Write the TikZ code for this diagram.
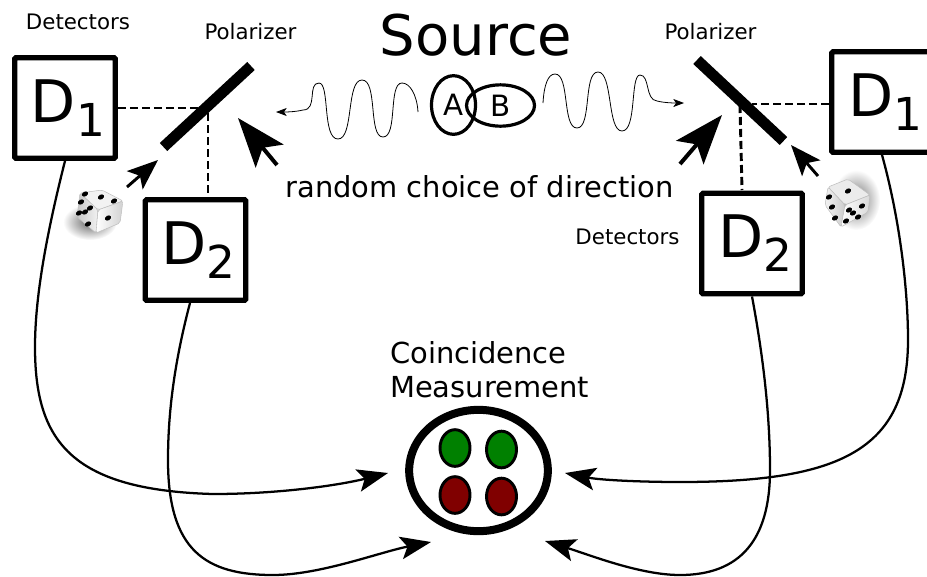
\documentclass[tikz,border=0pt]{standalone}
\usepackage{fontspec}
\setmainfont{DejaVu Sans}
\usetikzlibrary{positioning}
\usetikzlibrary{arrows.meta}
\usetikzlibrary{shapes.geometric}
\newcommand{\detname}[1]{{\fontsize{44}{44}\selectfont\kern4.5pt D\raisebox{-10.5pt}{\fontsize{34}{34}\selectfont #1}}}
\definecolor{spotgreen}{HTML}{008000}
\definecolor{spotred}{HTML}{800000}

\begin{document}
\begin{tikzpicture}[x=0.75pt, y=-0.75pt]
    \tikzstyle{det-block} = [draw=black, line width=3.9pt, fill=white, rectangle, rounded corners=1pt, minimum width=75.5pt, minimum height=75.5pt, inner sep=0pt];
    \tikzstyle{polarizer} = [line width=8.2pt, line cap=butt];
    \tikzstyle{link} = [line width=2.2pt, dash pattern=on 6pt off 3pt];
    \tikzstyle{big-pointer} = [line width=3pt, -{Stealth[length=37pt, width=27pt, inset=8pt]}];
    \tikzstyle{small-pointer} = [line width=2.2pt, -{Stealth[length=23pt, width=18pt, inset=5pt]}];
    \tikzstyle{cable} = [line width=1.7pt, -{Stealth[length=23pt, width=17pt, inset=5pt]}];
    \tikzstyle{signal} = [line width=0.6pt, -{Stealth[length=8pt, width=6pt, inset=2pt]}];
    \tikzstyle{particle} = [draw, line width=2.4pt, ellipse, inner sep=0pt, font=\fontsize{22}{22}\selectfont];
    \tikzstyle{spot} = [draw, line width=2.2pt, ellipse, inner sep=0pt, minimum width=22.5pt, minimum height=27.5pt];
    \tikzstyle{small-label} = [inner sep=0pt, font=\fontsize{16}{16}\selectfont];
    \tikzstyle{big-label} = [inner sep=0pt, font=\fontsize{21.7}{25.5}\selectfont];
    \tikzstyle{die-face} = [draw=black!25, line width=0.4pt, rounded corners=1.5pt];
    \tikzstyle{pip} = [fill=black];

    \useasboundingbox (0, 0) rectangle (927, 576);

    \node (source) at (476, 35) [inner sep=0pt, font=\fontsize{42}{42}\selectfont] {Source};
    \node (choice) at (479.5, 187) [big-label] {random choice of direction};
    \node (coincidence) at (489.5, 369.5) [big-label, align=left] {Coincidence\\Measurement};
    \node (det-label-l) at (78, 22) [small-label] {Detectors};
    \node (det-label-r) at (627.5, 237) [small-label] {Detectors};
    \node (pol-label-l) at (250.5, 32) [small-label] {Polarizer};
    \node (pol-label-r) at (710.5, 32) [small-label] {Polarizer};

    \node[det-block] (det-l-1) at (65, 108)    {\detname{1}};
    \node[det-block] (det-l-2) at (195.5, 250) {\detname{2}};
    \node[det-block] (det-r-1) at (882, 102)   {\detname{1}};
    \node[det-block] (det-r-2) at (752, 243.5) {\detname{2}};

    \coordinate (pol-l-a) at (163.5, 147);
    \coordinate (pol-l-b) at (251, 66);
    \coordinate (pol-r-a) at (697, 60);
    \coordinate (pol-r-b) at (783.5, 141);
    \draw [polarizer] (pol-l-a) -- (pol-l-b);
    \draw [polarizer] (pol-r-a) -- (pol-r-b);

    \coordinate (hit-l-1) at (200, 108);
    \coordinate (hit-l-2) at (208, 113);
    \coordinate (hit-r-1) at (752, 104);
    \coordinate (hit-r-2) at (740, 105);
    \draw [link] (det-l-1.east |- hit-l-1) -- (hit-l-1);
    \draw [link] (hit-l-2) -- (hit-l-2 |- det-l-2.north);
    \draw [link] (det-r-1.west |- hit-r-1) -- (hit-r-1);
    \draw [link] (hit-r-2) -- (742, 190);

    \coordinate (aim-l) at (238, 118);
    \coordinate (aim-r) at (722, 115);
    \coordinate (tail-l) at (277, 165);
    \coordinate (tail-r) at (680, 164);
    \draw [big-pointer] (tail-l) -- (aim-l);
    \draw [big-pointer] (tail-r) -- (aim-r);

    \coordinate (die-aim-l) at (158, 160);
    \coordinate (die-aim-r) at (791, 145);
    \coordinate (die-tail-l) at (127, 187);
    \coordinate (die-tail-r) at (818, 176);
    \draw [small-pointer] (die-tail-l) -- (die-aim-l);
    \draw [small-pointer] (die-tail-r) -- (die-aim-r);

    \node[particle, minimum width=33pt, minimum height=44pt] (part-a) at (453.5, 105) {A};
    \node[particle, minimum width=51pt, minimum height=31pt] (part-b) at (500.5, 105.5) {B};

    \coordinate (wave-l-start) at (418, 112);
    \coordinate (wave-l-end) at (276, 112);
    \coordinate (wave-r-start) at (543, 103);
    \coordinate (wave-r-end) at (684, 103);
    \draw [signal] (wave-l-start) .. controls (417, 95) and (410, 83) .. (402, 83)
        .. controls (388, 83) and (398, 137) .. (383, 137)
        .. controls (368, 137) and (378, 80) .. (362, 80)
        .. controls (346, 80) and (354, 139) .. (338, 139)
        .. controls (322, 139) and (330, 83) .. (319, 83)
        .. controls (307, 83) and (318, 110) .. (303, 110)
        .. controls (295, 112) and (285, 112) .. (wave-l-end);
    \draw [signal] (wave-r-start) .. controls (544, 85) and (548, 74) .. (555, 74)
        .. controls (570, 74) and (562, 128) .. (577, 128)
        .. controls (592, 128) and (583, 72) .. (598, 72)
        .. controls (613, 72) and (607, 131) .. (622, 131)
        .. controls (637, 131) and (630, 75) .. (640, 75)
        .. controls (650, 75) and (645, 100) .. (657, 101)
        .. controls (665, 103) and (675, 103) .. (wave-r-end);

    \node[draw, line width=6pt, ellipse, minimum width=104pt, minimum height=91pt, inner sep=0pt] (counter) at (478.5, 470.5) {};
    \node[spot, fill=spotgreen] (spot-g-1) at (455, 448)     {};
    \node[spot, fill=spotgreen] (spot-g-2) at (501.5, 449.5) {};
    \node[spot, fill=spotred]   (spot-r-1) at (455, 495)     {};
    \node[spot, fill=spotred]   (spot-r-2) at (501.5, 496.5) {};

    \coordinate (in-l-1) at (388, 473);
    \coordinate (in-l-2) at (431, 542);
    \coordinate (in-r-1) at (565, 473);
    \coordinate (in-r-2) at (545, 541);
    \draw [cable] (det-l-1.south) .. controls (45, 240) and (35, 300) .. (35, 347)
        .. controls (35, 440) and (70, 490) .. (213, 494)
        .. controls (280, 494) and (340, 485) .. (in-l-1);
    \draw [cable] (190, 303) .. controls (175, 360) and (168, 410) .. (168, 460)
        .. controls (168, 550) and (205, 575) .. (273, 575)
        .. controls (320, 575) and (380, 552) .. (in-l-2);
    \draw [cable] (det-r-1.south) .. controls (900, 220) and (908, 290) .. (908, 340)
        .. controls (908, 450) and (840, 482) .. (680, 482)
        .. controls (640, 482) and (600, 480) .. (in-r-1);
    \draw [cable] (det-r-2.south) .. controls (762, 350) and (770, 410) .. (770, 470)
        .. controls (770, 540) and (740, 575) .. (680, 575)
        .. controls (640, 575) and (590, 555) .. (in-r-2);

    \shade [inner color=black!60, outer color=white] (90, 222) ellipse (27 and 18);
    \fill [die-face, fill=black!5] (80, 193) -- (102, 190) -- (123, 201) -- (98, 210) -- cycle;
    \shade [die-face, left color=black!22, right color=black!5] (80, 193) -- (98, 210) -- (96, 233) -- (77, 217) -- cycle;
    \shade [die-face, left color=white, right color=black!18] (98, 210) -- (123, 201) -- (120, 223) -- (96, 233) -- cycle;
    \foreach \px/\py in {85/194, 101/197, 114/201, 81/202, 90/208, 85/212, 79/213, 88/224, 108/218}
        \fill [pip, rotate around={30:(\px, \py)}] (\px, \py) ellipse (3.2 and 2.4);

    \shade [inner color=black!55, outer color=white] (856, 200) ellipse (24 and 30);
    \fill [die-face, fill=black!8] (828, 187) -- (848, 179) -- (870, 195) -- (845, 205) -- cycle;
    \shade [die-face, left color=black!5, right color=black!20] (828, 187) -- (845, 205) -- (841, 227) -- (825, 205) -- cycle;
    \shade [die-face, left color=white, right color=black!15] (845, 205) -- (870, 195) -- (868, 212) -- (841, 227) -- cycle;
    \foreach \px/\py in {848/191, 829/197, 832/207, 835/218, 849/210, 862/206, 853/213, 846/221, 858/217}
        \fill [pip, rotate around={30:(\px, \py)}] (\px, \py) ellipse (3.2 and 2.4);
\end{tikzpicture}
\end{document}
